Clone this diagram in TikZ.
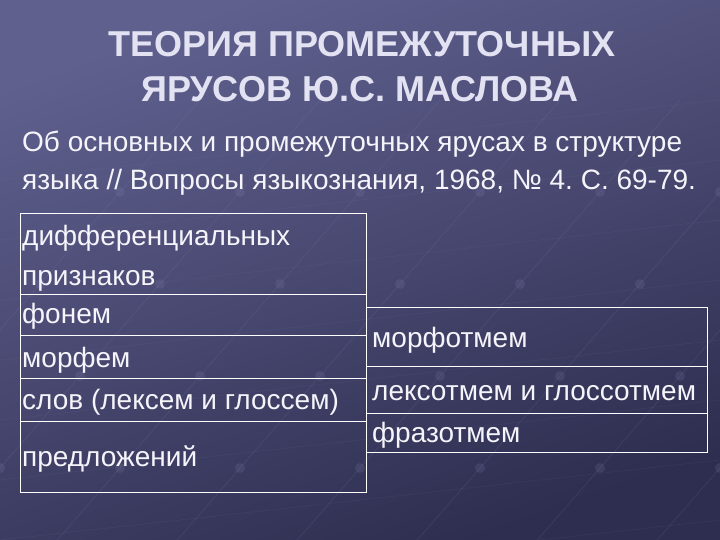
\documentclass[tikz,border=0pt]{standalone}
\usepackage{fontspec}
\setmainfont{Liberation Sans}
\frenchspacing
\definecolor{bgtop}{HTML}{60608F}
\definecolor{bgbot}{HTML}{2E2E50}
\definecolor{titlecol}{HTML}{E2E2F2}
\definecolor{textcol}{HTML}{F4F4FA}
\definecolor{gridcol}{HTML}{8A8AB8}
\tikzset{
  titletext/.style={text=titlecol, font=\bfseries\fontsize{36}{40}\selectfont, inner sep=0pt, anchor=base},
  bodytext/.style={text=textcol, font=\fontsize{28}{32}\selectfont, inner sep=0pt, anchor=base west},
  cell/.style={draw=white, line width=1.2pt, anchor=north west, inner sep=0pt},
  bgline/.style={draw=gridcol, opacity=0.14, line width=0.8pt},
  bgdot/.style={fill=gridcol, opacity=0.16}
}
\begin{document}
\begin{tikzpicture}[x=1pt,y=-1pt]
\useasboundingbox (0,0) rectangle (720,540);
\shade[top color=bgtop, bottom color=bgbot, shading angle=20] (0,0) rectangle (720,540);
% faint background texture
\foreach \i in {0,...,10} {
  \draw[bgline] (-200+\i*120,560) -- (200+\i*120,100);
}
\foreach \i in {0,...,7} {
  \draw[bgline, opacity=0.08] (0,180+\i*60) -- (720,100+\i*60);
}
\foreach \i in {0,...,10} {
  \foreach \k in {1,...,4} {
    \fill[bgdot] ({-200+\i*120+\k*80}, {560-\k*92}) circle (5);
  }
}
% title
\node[titletext] (t1) at (362,57) {ТЕОРИЯ ПРОМЕЖУТОЧНЫХ};
\node[titletext] (t2) at (360,102) {ЯРУСОВ Ю.С. МАСЛОВА};
% subtitle
\node[bodytext] (s1) at (22,152) {Об основных и промежуточных ярусах в структуре};
\node[bodytext] (s2) at (22,190) {языка // Вопросы языкознания, 1968, № 4. С. 69-79.};
% left table cells
\node[cell, minimum width=346pt, minimum height=81pt] (l1) at (20,213) {};
\node[cell, minimum width=346pt, minimum height=41pt] (l2) at (20,294) {};
\node[cell, minimum width=346pt, minimum height=43pt] (l3) at (20,335) {};
\node[cell, minimum width=346pt, minimum height=43pt] (l4) at (20,378) {};
\node[cell, minimum width=346pt, minimum height=71pt] (l5) at (20,421) {};
% right table cells
\node[cell, minimum width=341pt, minimum height=59pt] (r1) at (366,307) {};
\node[cell, minimum width=341pt, minimum height=47pt] (r2) at (366,366) {};
\node[cell, minimum width=341pt, minimum height=39pt] (r3) at (366,413) {};
% left table texts
\node[bodytext] (l1a) at (22,245) {дифференциальных};
\node[bodytext] (l1b) at (22,285) {признаков};
\node[bodytext] (l2t) at (22,323) {фонем};
\node[bodytext] (l3t) at (22,367) {морфем};
\node[bodytext] (l4t) at (22,409) {слов (лексем и глоссем)};
\node[bodytext] (l5t) at (22,466) {предложений};
% right table texts
\node[bodytext] (r1t) at (372,347) {морфотмем};
\node[bodytext] (r2t) at (372,400) {лексотмем и глоссотмем};
\node[bodytext] (r3t) at (372,442) {фразотмем};
\end{tikzpicture}
\end{document}
